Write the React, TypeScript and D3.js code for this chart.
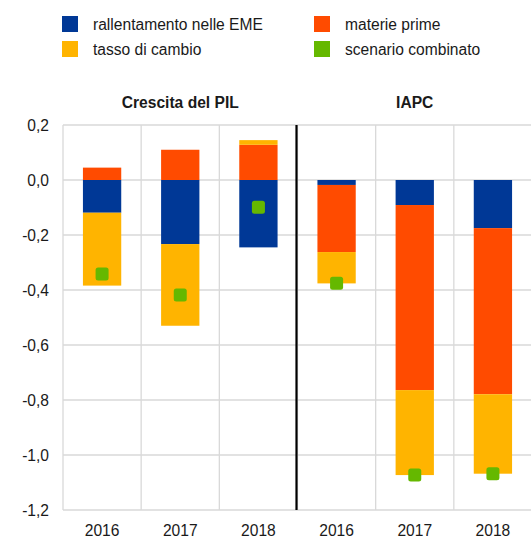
import * as d3 from "d3";

const WIDTH = 531;
const HEIGHT = 538;
const LEFT = 63;
const RIGHT = 532;
const TOP = 125;
const BOTTOM = 510;
const FS = 15.6;

const panels = ["Crescita del PIL", "IAPC"];
const years = ["2016", "2017", "2018"];
const seriesKeys = ["rallentamento", "materie", "cambio"];
const seriesNames = ["rallentamento nelle EME", "materie prime", "tasso di cambio"];
const seriesColors = ["#003896", "#FF4B00", "#FFB400"];
const comboName = "scenario combinato";
const comboColor = "#65B800";

// contributions, one list per series, GDP years then HICP years
const rallentamento = [-0.119, -0.233, -0.245, -0.018, -0.091, -0.175];
const materie = [0.045, 0.11, 0.128, -0.244, -0.673, -0.604];
const cambio = [-0.265, -0.297, 0.017, -0.114, -0.309, -0.289];
const combinato = [-0.342, -0.418, -0.099, -0.375, -1.073, -1.068];

const yTicks = [0.2, 0, -0.2, -0.4, -0.6, -0.8, -1.0, -1.2];

const FONT = "'Liberation Sans', Arial, sans-serif";

export default function App() {
  const slots = panels.flatMap((p) => years.map((y) => `${p}|${y}`));
  const rows = slots.map((slot, i) => ({
    slot,
    rallentamento: rallentamento[i],
    materie: materie[i],
    cambio: cambio[i],
    combinato: combinato[i],
  }));

  const x = d3.scaleBand<string>().domain(slots).range([LEFT, RIGHT]).padding(0);
  const y = d3.scaleLinear().domain([-1.2, 0.2]).range([BOTTOM, TOP]);
  const stacked = d3
    .stack<any>()
    .keys(seriesKeys)
    .offset(d3.stackOffsetDiverging)(rows);

  const bw = x.bandwidth();
  const barW = bw * 0.49;
  const fmt = (v: number) => d3.format(".1f")(v).replace(".", ",").replace("−", "-");
  const sepX = x(slots[3])!;

  const legend = [
    { name: seriesNames[0], color: seriesColors[0], col: 0, row: 0 },
    { name: seriesNames[1], color: seriesColors[1], col: 1, row: 0 },
    { name: seriesNames[2], color: seriesColors[2], col: 0, row: 1 },
    { name: comboName, color: comboColor, col: 1, row: 1 },
  ];

  return (
    <svg
      width={WIDTH}
      height={HEIGHT}
      style={{ position: "absolute", left: 0, top: 0, background: "#fff" }}
      fontFamily={FONT}
    >
      {/* legend */}
      {legend.map((l) => (
        <g key={l.name} transform={`translate(${62 + l.col * 252}, ${16 + l.row * 25})`}>
          <rect width={16} height={16} fill={l.color} />
          <text x={31} y={8} dy="0.36em" fontSize={FS} fill="#1a1a1a">
            {l.name}
          </text>
        </g>
      ))}

      {/* panel titles */}
      {panels.map((p, i) => {
        const x0 = x(slots[i * 3])!;
        const x1 = x(slots[i * 3 + 2])! + bw;
        return (
          <text key={p} x={(x0 + x1) / 2} y={108} textAnchor="middle" fontSize={FS} fontWeight="bold" fill="#1a1a1a">
            {p}
          </text>
        );
      })}

      {/* grid */}
      <g>
        {yTicks.map((t) => (
          <line key={t} x1={LEFT} x2={RIGHT} y1={y(t)} y2={y(t)} stroke="#d9d9d9" strokeWidth={1.3} />
        ))}
        {slots.map((s) => (
          <line key={s} x1={x(s)} x2={x(s)} y1={TOP} y2={BOTTOM} stroke="#d9d9d9" strokeWidth={1.3} />
        ))}
      </g>

      {/* y labels */}
      {yTicks.map((t) => (
        <text key={t} x={49} y={y(t)} dy="0.36em" textAnchor="end" fontSize={FS} fill="#1a1a1a">
          {fmt(t)}
        </text>
      ))}

      {/* bars */}
      {stacked.map((layer, li) => (
        <g key={layer.key} fill={seriesColors[li]}>
          {layer.map((d, i) => {
            const y0 = y(Math.max(d[0], d[1]));
            const y1 = y(Math.min(d[0], d[1]));
            if (y1 - y0 <= 0) return null;
            return (
              <rect
                key={i}
                x={x(slots[i])! + (bw - barW) / 2}
                y={y0}
                width={barW}
                height={y1 - y0}
              />
            );
          })}
        </g>
      ))}

      {/* combined scenario */}
      {rows.map((r) => (
        <rect
          key={r.slot}
          x={x(r.slot)! + bw / 2 - 6.5}
          y={y(r.combinato) - 6.5}
          width={13}
          height={13}
          rx={2.5}
          fill={comboColor}
        />
      ))}

      {/* separator */}
      <line x1={sepX - 1} x2={sepX - 1} y1={TOP} y2={BOTTOM} stroke="#000" strokeWidth={2.2} />

      {/* x labels */}
      {slots.map((s) => (
        <text key={s} x={x(s)! + bw / 2} y={530} dy="0.36em" textAnchor="middle" fontSize={FS} fill="#1a1a1a">
          {s.split("|")[1]}
        </text>
      ))}
    </svg>
  );
}
